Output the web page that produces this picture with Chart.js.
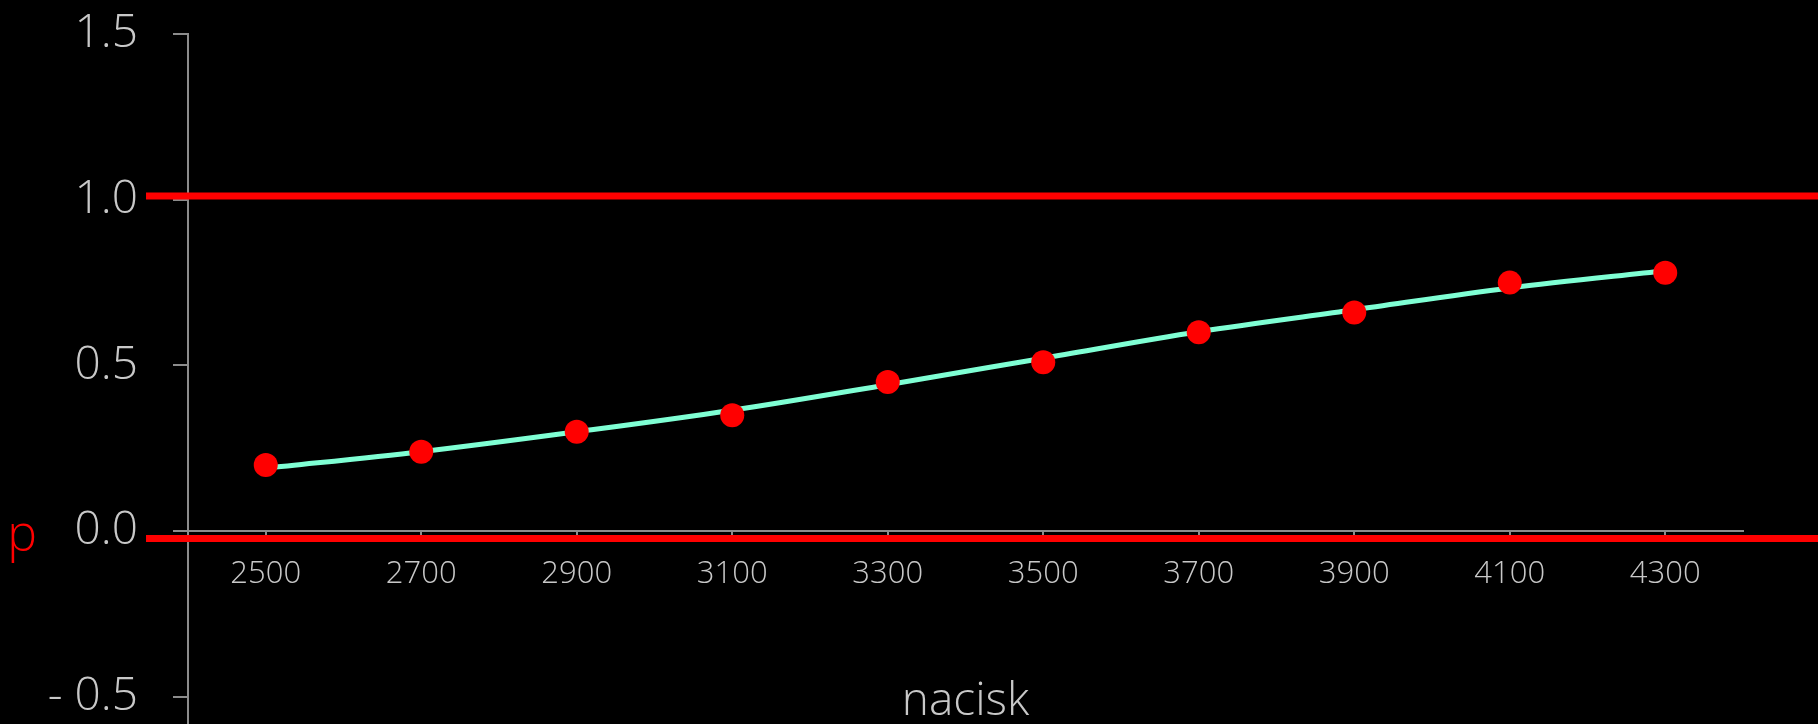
<!DOCTYPE html>
<html lang="pl">
<head>
<meta charset="utf-8">
<title>p vs nacisk</title>
<script src="https://cdn.jsdelivr.net/npm/chart.js@4.4.1/dist/chart.umd.min.js"></script>
<style>
  html, body { margin: 0; padding: 0; background: #000; }
  .chart-box { width: 1818px; height: 724px; position: relative; }
</style>
</head>
<body>
<div class="chart-box">
  <canvas id="pChart"></canvas>
</div>
<script>
  // data
  const nacisk = ['2500', '2700', '2900', '3100', '3300', '3500', '3700', '3900', '4100', '4300'];
  const pPoints = [0.20, 0.24, 0.30, 0.35, 0.45, 0.51, 0.60, 0.66, 0.75, 0.78];
  const pCurve = [0.19, 0.24, 0.30, 0.365, 0.442, 0.522, 0.602, 0.668, 0.734, 0.786];
  const yTicks = [-0.5, 0, 0.5, 1.0, 1.5];
  const refLevels = [1.011, -0.022];
  const refSpan = [2346, 4600];

  const grey = '#8c8c8c';
  const textColor = '#c8c8c8';
  const fam = "'Open Sans', 'Noto Sans', sans-serif";

  function refLine(level) {
    return {
      type: 'line',
      xAxisID: 'xr',
      yAxisID: 'y',
      data: refSpan.map(x => ({x: x, y: level})),
      borderColor: '#ff0000',
      borderWidth: 7,
      pointRadius: 0,
      clip: false,
      order: 3
    };
  }

  const data = {
    labels: nacisk,
    datasets: [{
      label: 'p',
      data: pPoints,
      showLine: false,
      pointRadius: 12,
      pointBackgroundColor: '#ff0000',
      pointBorderWidth: 0,
      order: 0
    }, {
      label: 'krzywa',
      data: pCurve,
      borderColor: '#7fffd4',
      borderWidth: 5,
      pointRadius: 0,
      cubicInterpolationMode: 'monotone',
      order: 1
    },
    refLine(refLevels[0]),
    refLine(refLevels[1])
    ]
  };

  const config = {
    type: 'line',
    data,
    options: {
      responsive: true,
      maintainAspectRatio: false,
      animation: false,
      layout: { autoPadding: false, padding: { top: 34, right: 75, bottom: 0, left: 0 } },
      plugins: {
        legend: { display: false },
        tooltip: { enabled: false }
      },
      scales: {
        x: {
          type: 'category',
          offset: true,
          position: { y: 0 },
          z: 1,
          grid: { drawOnChartArea: false, tickLength: 10, color: grey, lineWidth: 2 },
          border: { color: grey, width: 2 },
          ticks: { color: textColor, padding: 14, font: { family: fam, size: 31, weight: '300' } },
          title: {
            display: true,
            text: 'nacisk',
            color: textColor,
            font: { family: fam, size: 46, weight: '300' },
            padding: { top: 0, bottom: -198 }
          },
          afterFit: function(scale) {
            scale.height = 0;
            scale.paddingLeft = 0;
            scale.paddingRight = 0;
          }
        },
        xr: {
          type: 'linear',
          display: false,
          min: 2400,
          max: 4400
        },
        y: {
          type: 'linear',
          position: 'left',
          min: -0.5815,
          max: 1.5,
          grid: { drawOnChartArea: false, tickLength: 15, color: grey, lineWidth: 2 },
          border: { color: grey, width: 2 },
          ticks: {
            color: textColor,
            padding: 35,
            font: { family: fam, size: 46, weight: '300' },
            callback: function(v) {
              return v < 0 ? '- ' + Math.abs(v).toFixed(1) : v.toFixed(1);
            }
          },
          afterBuildTicks: function(scale) {
            scale.ticks = yTicks.map(v => ({ value: v }));
          },
          afterFit: function(scale) {
            scale.width = 143;
            scale.paddingTop = 0;
            scale.paddingBottom = 0;
          }
        },
        y2: {
          type: 'linear',
          position: 'left',
          weight: 1,
          min: -0.5815,
          max: 1.5,
          grid: { display: false, drawTicks: false },
          border: { display: false },
          ticks: {
            color: '#ff0000',
            padding: 8,
            labelOffset: 6,
            font: { family: fam, size: 50, weight: '300' },
            callback: function() { return 'p'; }
          },
          afterBuildTicks: function(scale) {
            scale.ticks = [{ value: 0 }];
          },
          afterFit: function(scale) {
            scale.width = 45;
            scale.paddingTop = 0;
            scale.paddingBottom = 0;
          }
        }
      }
    }
  };

  const pChart = new Chart(document.getElementById('pChart'), config);
</script>
</body>
</html>
